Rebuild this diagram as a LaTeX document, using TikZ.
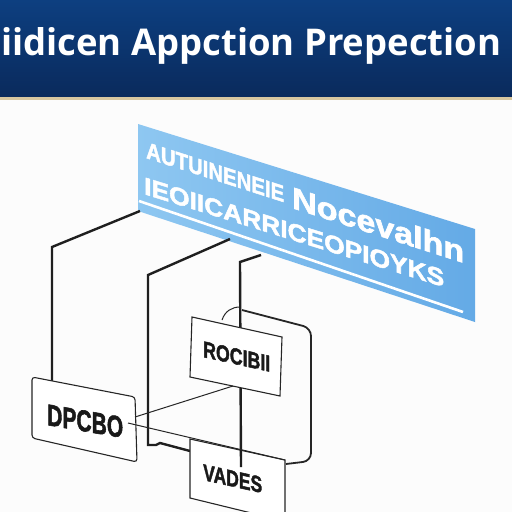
\documentclass[tikz,border=0pt]{standalone}
\usepackage{fontspec}
\setmainfont{Liberation Sans}
\newfontfamily\titlefont{Open Sans}
\newfontfamily\heavyfont[FakeBold=2]{Liberation Sans Bold}
\definecolor{navytop}{HTML}{0D3F80}
\definecolor{navybot}{HTML}{0A2A5C}
\definecolor{bannerL}{HTML}{8EC7F1}
\definecolor{bannerR}{HTML}{64AAE6}
\definecolor{goldline}{HTML}{D8C7A0}
\definecolor{paper}{HTML}{FCFCFC}
\begin{document}
\begin{tikzpicture}[x=1pt,y=-1pt,
  wire/.style={line width=2.4pt, black!88, line join=miter},
  thinwire/.style={line width=1pt, black!85},
  boxline/.style={draw=black!85, line width=1.1pt, fill=white},
  outline/.style={line width=1.8pt, black!85, rounded corners=8pt},
  btext/.style={inner sep=0, anchor=base west, transform shape, text=white},
  ktext/.style={inner sep=0, anchor=base west, transform shape, text=black!90}]
\useasboundingbox (0,0) rectangle (512,512);
\fill[paper] (0,0) rectangle (512,512);
% title band
\shade[top color=navytop, bottom color=navybot] (0,0) rectangle (512,97);
\fill[goldline] (0,97) rectangle (512,99.5);
\node[inner sep=0, anchor=base west, text=white] (title) at (1,55)
  {\resizebox{500pt}{28pt}{\titlefont\bfseries iidicen Appction Prepection}};
% banner
\coordinate (bTL) at (138,124);
\coordinate (bTR) at (475,229);
\coordinate (bBR) at (475,322);
\coordinate (bBL) at (138,211);
\shade[left color=bannerL, right color=bannerR] (bTL) -- (bTR) -- (bBR) -- (bBL) -- cycle;
\coordinate (wl1) at (139,201);
\coordinate (wl2) at (463,312);
\draw[white, line width=2.6pt] (wl1) -- (wl2);
\begin{scope}[shift={(146,158)}, yslant=-0.32]
  \node[btext] (r1a) at (0,0) {\resizebox{138pt}{16pt}{\heavyfont AUTUINENEIE}};
\end{scope}
\begin{scope}[shift={(292,208)}, yslant=-0.32]
  \node[btext] (r1b) at (0,0) {\resizebox{172pt}{22pt}{\heavyfont Nocevalhn}};
\end{scope}
\begin{scope}[shift={(144,194)}, yslant=-0.31]
  \node[btext] (r2) at (0,0) {\resizebox{300pt}{17pt}{\heavyfont IEOIICARRICEOPIOYKS}};
\end{scope}
% connector points
\coordinate (a0) at (140,211);
\coordinate (a1) at (52,247);
\coordinate (a2) at (52,381);
\coordinate (b0) at (230,239);
\coordinate (b1) at (148,275);
\coordinate (b2) at (148,445);
\coordinate (b3) at (156,445);
\coordinate (b4) at (160,443);
\coordinate (b5) at (190,451);
\coordinate (c0) at (261,255);
\coordinate (c1) at (240,262);
\coordinate (c2) at (241,467);
% thick wires
\draw[wire] (a0) -- (a1) -- (a2);
\draw[wire] (b0) -- (b1) -- (b2) -- (b3) -- (b4) -- (b5);
% right outline
\coordinate (o0) at (242,310);
\coordinate (o1) at (311,328);
\coordinate (o2) at (311,461);
\coordinate (o3) at (286,464);
\draw[outline] (o0) -- (o1) -- (o2) -- (o3);
\coordinate (arc0) at (222,320);
\coordinate (arc1) at (240,307);
\draw[line width=1pt, black!85] (arc0) .. controls (225,311) and (232,307) .. (arc1);
% DPCBO box
\draw[boxline, rounded corners=3pt] (32,377) -- (135,397) -- (137,462) -- (32,438) -- cycle;
\coordinate (d1) at (135,417);
\coordinate (d2) at (128,423);
\begin{scope}[shift={(47,425)}, yslant=-0.17]
  \node[ktext] (dtext) at (0,0) {\resizebox{76pt}{21pt}{\heavyfont DPCBO}};
\end{scope}
% VADES box
\begin{scope}
\clip (0,0) rectangle (512,512);
\draw[boxline] (190,439) -- (285,460) -- (285,520) -- (280,520) -- (190,498) -- cycle;
\end{scope}
\begin{scope}[shift={(203,480)}, yslant=-0.22]
  \node[ktext] (vtext) at (0,0) {\resizebox{59pt}{16pt}{\heavyfont VADES}};
\end{scope}
% vertical wire C
\draw[wire] (c0) -- (c1) -- (c2);
% ROCIBII box
\draw[boxline] (192,317) -- (282,337) -- (280,396) -- (190,377) -- cycle;
\begin{scope}[shift={(203,357)}, yslant=-0.22]
  \node[ktext] (rtext) at (0,0) {\resizebox{67pt}{16pt}{\heavyfont ROCIBII}};
\end{scope}
% thin connectors
\coordinate (r0) at (233,386);
\coordinate (v0) at (285,460);
\draw[thinwire] (d1) -- (r0);
\draw[thinwire] (d2) -- (v0);
\end{tikzpicture}
\end{document}
